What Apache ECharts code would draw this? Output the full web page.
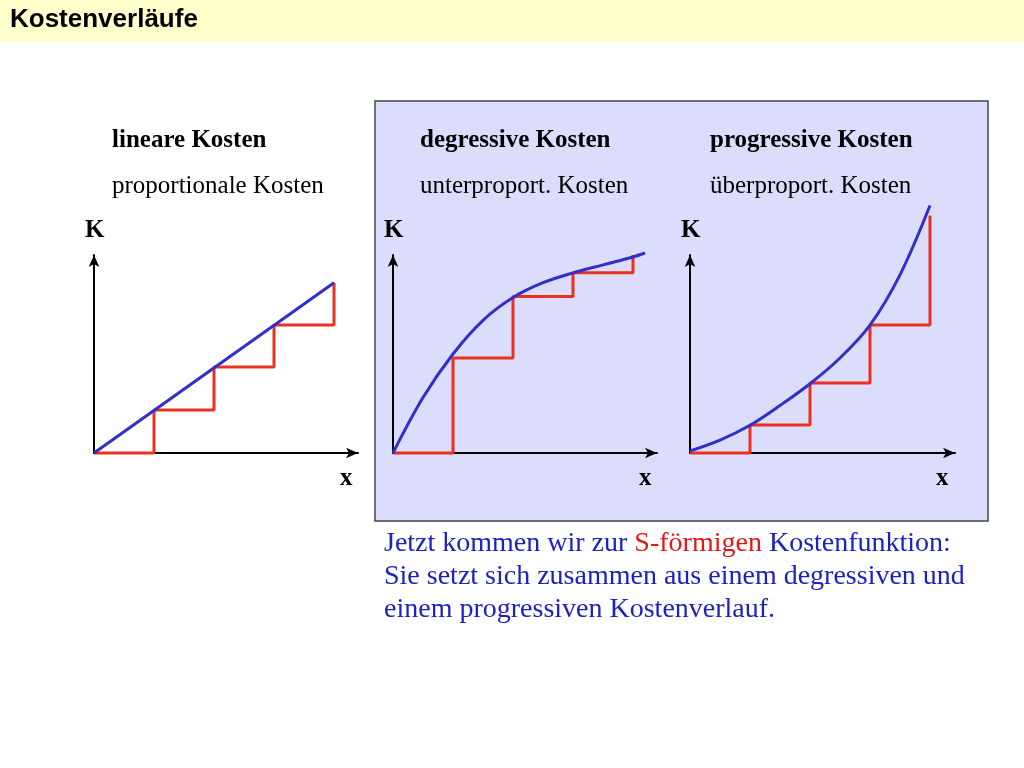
<!DOCTYPE html>
<html><head><meta charset="utf-8">
<script src="https://cdn.jsdelivr.net/npm/echarts@6/dist/echarts.min.js"></script>
<style>html,body{margin:0;padding:0;background:#fff}#c{width:1024px;height:768px}</style>
</head><body><div id="c"></div>
<script>
// Data (x in step units, y in cost units)
const linBlue = [[0,0],[4,8.6]];
const linRed = [[0,0],[1,0],[1,2.17],[2,2.17],[2,4.34],[3,4.34],[3,6.46],[4,6.46],[4,8.6]];
const degBlue = [[0,0],[0.5,2.8],[1,5.0],[1.5,6.7],[2,7.85],[2.5,8.6],[3,9.1],[3.5,9.5],[4,9.9],[4.2,10.1]];
const degRed = [[0,0],[1,0],[1,4.8],[2,4.8],[2,7.9],[3,7.9],[3,9.1],[4,9.1],[4,10]];
const proBlue = [[0,0.1],[0.5,0.65],[1,1.4],[1.5,2.4],[2,3.5],[2.5,4.8],[3,6.46],[3.5,9.0],[4,12.5]];
const proRed = [[0,0],[1,0],[1,1.41],[2,1.41],[2,3.54],[3,3.54],[3,6.46],[4,6.46],[4,12.0]];
const headers = [["lineare Kosten","proportionale Kosten"],["degressive Kosten","unterproport. Kosten"],["progressive Kosten","überproport. Kosten"]];

const origins = [94,393,690];
const widths = [264,264,265];
const ser = [[linBlue,linRed],[degBlue,degRed],[proBlue,proRed]];
const chart = echarts.init(document.getElementById('c'));
const grid=[],xAxis=[],yAxis=[],series=[],graphic=[];
graphic.push({type:'rect',shape:{x:0,y:0,width:1024,height:42},style:{fill:'#ffffcc'},z:-1});
graphic.push({type:'text',left:10,top:7,style:{text:'Kostenverläufe',font:'bold 26px "Liberation Sans", Arial',fill:'#000'}});
graphic.push({type:'rect',shape:{x:375,y:101,width:613,height:420},style:{fill:'#dcdcfc',stroke:'#444',lineWidth:1.5},z:-1});
const hx=[112,420,710];
origins.forEach((o,i)=>{
  grid.push({left:o,top:255,width:widths[i],height:198});
  xAxis.push({type:'value',gridIndex:i,min:0,max:widths[i]/60,axisLine:{lineStyle:{color:'#000',width:2},symbol:['none','arrow'],symbolSize:[8,12]},axisTick:{show:false},axisLabel:{show:false},splitLine:{show:false}});
  yAxis.push({type:'value',gridIndex:i,min:0,max:10,axisLine:{show:true,lineStyle:{color:'#000',width:2},symbol:['none','arrow'],symbolSize:[8,12]},axisTick:{show:false},axisLabel:{show:false},splitLine:{show:false}});
  series.push({type:'line',xAxisIndex:i,yAxisIndex:i,data:ser[i][1],symbol:'none',clip:false,lineStyle:{color:'#e8321e',width:3},z:3});
  series.push({type:'line',xAxisIndex:i,yAxisIndex:i,data:ser[i][0],symbol:'none',smooth:i>0?0.35:false,clip:false,lineStyle:{color:'#3030c8',width:3},z:4});
  graphic.push({type:'text',left:hx[i],top:128,style:{text:headers[i][0],font:'bold 25px "Liberation Serif"',fill:'#000'}});
  graphic.push({type:'text',left:hx[i],top:174,style:{text:headers[i][1],font:'25px "Liberation Serif"',fill:'#000'}});
  graphic.push({type:'text',left:o-9,top:218,style:{text:'K',font:'bold 25px "Liberation Serif"',fill:'#000'}});
  graphic.push({type:'text',left:o+246,top:466,style:{text:'x',font:'bold 25px "Liberation Serif"',fill:'#000'}});
});
graphic.push({type:'text',left:384,top:530,style:{
  text:'{b|Jetzt kommen wir zur }{r|S-förmigen}{b| Kostenfunktion:}\n{b|Sie setzt sich zusammen aus einem degressiven und}\n{b|einem progressiven Kostenverlauf.}',
  rich:{b:{font:'28px "Liberation Serif"',fill:'#2020c0',lineHeight:33},r:{font:'28px "Liberation Serif"',fill:'#e01818',lineHeight:33}}}});
chart.setOption({animation:false,grid,xAxis,yAxis,series,graphic});
</script></body></html>
